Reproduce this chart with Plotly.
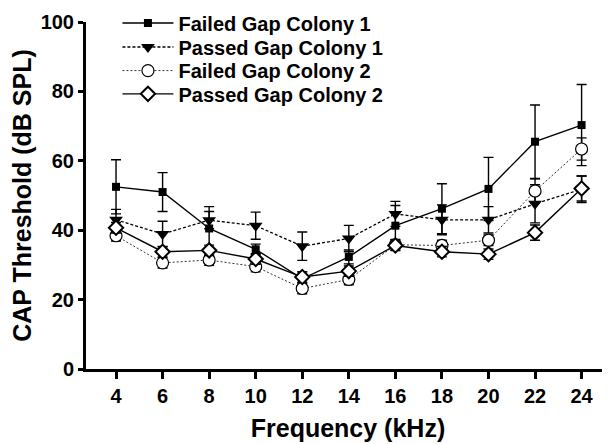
import plotly.graph_objects as go

freq_khz = [4, 6, 8, 10, 12, 14, 16, 18, 20, 22, 24]

failed_gap_1 = [52.5, 51.0, 40.5, 34.5, 26.0, 32.3, 41.3, 46.2, 51.9, 65.5, 70.3]
failed_gap_1_err = [7.8, 5.6, 6.3, 1.5, 2.0, 2.0, 5.8, 7.2, 9.1, 10.6, 11.7]

passed_gap_1 = [43.0, 38.9, 42.9, 41.3, 35.4, 37.6, 44.7, 43.0, 43.0, 47.6, 51.8]
passed_gap_1_err = [3.0, 3.7, 2.5, 3.9, 4.1, 3.8, 3.6, 4.3, 3.8, 5.5, 3.8]

failed_gap_2 = [38.4, 30.6, 31.4, 29.5, 23.2, 25.8, 35.8, 35.6, 37.1, 51.3, 63.4]
failed_gap_2_err = [1.5, 1.5, 1.5, 1.5, 1.5, 1.5, 1.5, 1.5, 1.5, 3.5, 3.2]

passed_gap_2 = [40.7, 33.8, 34.2, 31.7, 26.5, 28.2, 35.6, 33.8, 33.1, 39.3, 52.0]
passed_gap_2_err = [1.5, 1.5, 1.5, 1.5, 1.5, 1.5, 1.5, 1.5, 1.5, 2.2, 3.6]

x_ticks = [4, 6, 8, 10, 12, 14, 16, 18, 20, 22, 24]
y_ticks = [0, 20, 40, 60, 80, 100]

FONT = "Liberation Sans, Arial, sans-serif"

fig = go.Figure()

def err(vals):
    return dict(type="data", array=vals, visible=True, color="black",
                thickness=1.4, width=5)

fig.add_trace(go.Scatter(
    x=freq_khz, y=failed_gap_1, name="Failed Gap Colony 1", legend="legend",
    mode="lines+markers",
    line=dict(color="black", width=1.4),
    marker=dict(symbol="square", size=8, color="black"),
    error_y=err(failed_gap_1_err), cliponaxis=False))

fig.add_trace(go.Scatter(
    x=freq_khz, y=passed_gap_1, name="Passed Gap Colony 1", legend="legend2",
    mode="lines+markers",
    line=dict(color="black", width=1.3, dash="3px,2px"),
    marker=dict(symbol="triangle-down", size=12, color="black"),
    error_y=err(passed_gap_1_err), cliponaxis=False))

fig.add_trace(go.Scatter(
    x=freq_khz, y=failed_gap_2, name="Failed Gap Colony 2", legend="legend3",
    mode="lines+markers",
    line=dict(color="#333333", width=1.0, dash="2px,2px"),
    marker=dict(symbol="circle", size=12, color="white",
                line=dict(color="black", width=1.2)),
    error_y=err(failed_gap_2_err), cliponaxis=False))

fig.add_trace(go.Scatter(
    x=freq_khz, y=passed_gap_2, name="Passed Gap Colony 2", legend="legend4",
    mode="lines+markers",
    line=dict(color="black", width=1.4),
    marker=dict(symbol="diamond", size=11, color="white",
                line=dict(color="black", width=2)),
    error_y=err(passed_gap_2_err), cliponaxis=False))

def leg(y):
    return dict(
        x=0.06, y=y, xanchor="left", yanchor="middle",
        font=dict(family=FONT, size=20, color="black", weight="bold"),
        bgcolor="rgba(0,0,0,0)", itemwidth=51, borderwidth=0,
    )

fig.update_layout(
    width=602, height=436,
    margin=dict(l=78, r=0, t=14, b=75, autoexpand=False),
    paper_bgcolor="white", plot_bgcolor="white",
    font=dict(family=FONT, color="black"),
    showlegend=True,
    legend=leg(0.997),
    legend2=leg(0.928),
    legend3=leg(0.860),
    legend4=leg(0.793),
    xaxis=dict(
        range=[2.71, 25.22], tickvals=x_ticks, automargin=False,
        showgrid=False, zeroline=False,
        showline=True, linecolor="black", linewidth=3,
        ticks="outside", ticklen=7, tickwidth=2.5, tickcolor="black",
        tickfont=dict(family=FONT, size=20, weight="bold"),
        title=dict(text="Frequency (kHz)", standoff=14,
                   font=dict(family=FONT, size=25, weight="bold")),
    ),
    yaxis=dict(
        range=[0, 100], tickvals=y_ticks, automargin=False,
        showgrid=False, zeroline=False,
        showline=True, linecolor="black", linewidth=3,
        ticks="outside", ticklen=5, tickwidth=2.5, tickcolor="black",
        tickfont=dict(family=FONT, size=20, weight="bold"),
        title=dict(text="CAP Threshold (dB SPL)", standoff=10,
                   font=dict(family=FONT, size=25, weight="bold")),
    ),
)

fig.write_html("out.html")
